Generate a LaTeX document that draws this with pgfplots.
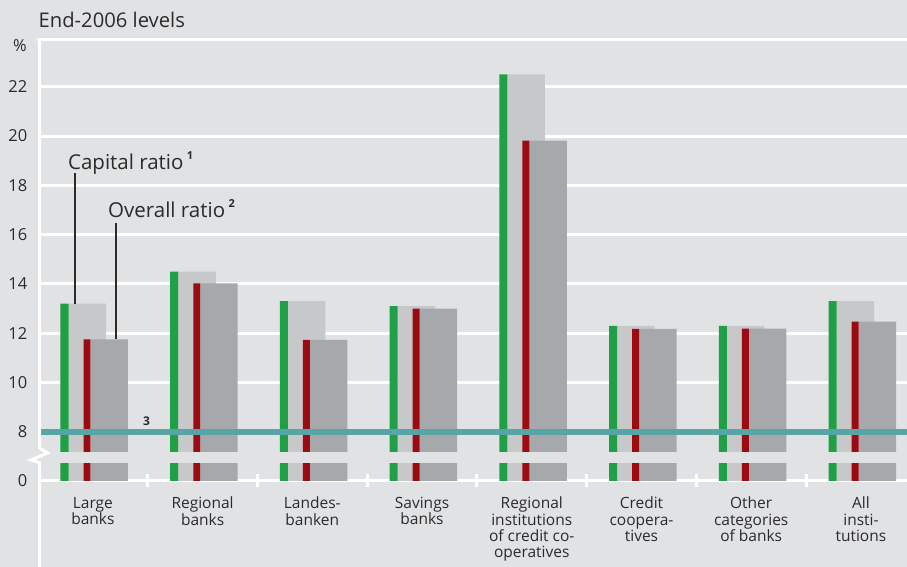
\documentclass[border=0pt]{standalone}
\usepackage{pgfplots}
\usepackage{pgfplotstable}
\pgfplotsset{compat=1.18}
\usepackage{fontspec}
\setmainfont{Open Sans}
\definecolor{bg}{HTML}{E1E2E4}
\definecolor{lgray}{HTML}{C7C8CA}
\definecolor{dgray}{HTML}{A7A8AB}
\definecolor{cgreen}{HTML}{1FA046}
\definecolor{cred}{HTML}{9C0A12}
\definecolor{cteal}{HTML}{57A6A5}
\definecolor{txt}{HTML}{2B2B2B}
\pgfplotstableread{
cat cap over
0 13.2 11.75
1 14.5 14.02
2 13.3 11.73
3 13.1 13.0
4 22.5 19.82
5 12.3 12.17
6 12.3 12.18
7 13.3 12.47
}\ratios
\begin{document}
\begin{tikzpicture}[x=1pt,y=1pt]
\path[use as bounding box] (0,0) rectangle (907,567);
\fill[bg] (0,0) rectangle (907,567);
\node[anchor=base west, font=\fontsize{20.2}{23}\selectfont, text=txt, inner sep=0] at (38.5,539.3) {End-2006 levels};
\node[anchor=base east, font=\fontsize{16.5}{19}\selectfont, text=txt, inner sep=0] at (27,515.3) {\%};
\begin{axis}[
  at={(38pt,86pt)}, anchor=south west,
  scale only axis, width=869pt, height=441pt,
  xmin=-0.5, xmax=7.42, ymin=6, ymax=23.9,
  axis line style={draw=none},
  ytick={6,8,10,12,14,16,18,20,22},
  yticklabels={0,8,10,12,14,16,18,20,22},
  ymajorgrids, grid style={white, line width=3pt},
  ytick style={draw=none},
  yticklabel style={font=\fontsize{16.5}{19}\selectfont, text=txt, inner sep=0pt, anchor=east, xshift=-4pt},
  xtick={0.5,1.5,...,6.5}, xticklabels={},
  xtick pos=bottom, tick align=center, major tick length=13pt,
  xtick style={draw=white, line width=3pt},
  extra x ticks={0,1,2,3,4,5,6,7},
  extra x tick labels={Large\\banks, Regional\\banks, Landes-\\banken, Savings\\banks, Regional\\institutions\\of credit co-\\operatives, Credit\\coopera-\\tives, Other\\categories\\of banks, All\\insti-\\tutions},
  extra x tick style={major tick length=0pt, xtick style={draw=none}},
  xticklabel style={font=\fontsize{15.5}{16.3}\selectfont, text=txt, align=center, anchor=north, inner sep=0pt, yshift=-16pt},
  clip=true,
]
\addplot[ybar, bar width=0.342, bar shift=-0.051, fill=lgray, draw=none] table[x=cat, y=cap] {\ratios};
\addplot[ybar, bar width=0.073, bar shift=-0.2585, fill=cgreen, draw=none] table[x=cat, y=cap] {\ratios};
\addplot[ybar, bar width=0.342, bar shift=0.149, fill=dgray, draw=none] table[x=cat, y=over] {\ratios};
\addplot[ybar, bar width=0.063, bar shift=-0.0535, fill=cred, draw=none] table[x=cat, y=over] {\ratios};
\fill[bg] (axis cs:-0.5,6.72) rectangle (axis cs:7.42,7.165);
\addplot[cteal, line width=5.7pt, forget plot] coordinates {(-0.5,7.98) (7.42,7.98)};
\node[font=\bfseries\fontsize{12}{14}\selectfont, text=txt] at (axis cs:0.49,8.42) {3};
\draw[txt, line width=1.4pt] (axis cs:-0.163,18.5) -- (axis cs:-0.163,13.2);
\draw[txt, line width=1.4pt] (axis cs:0.211,16.47) -- (axis cs:0.211,11.75);
\node[anchor=base west, inner sep=0, font=\fontsize{20.5}{23}\selectfont, text=txt] at (axis cs:-0.227,18.65) {Capital ratio\,\raisebox{0.5em}{\bfseries\fontsize{11}{12}\selectfont 1}};
\node[anchor=base west, inner sep=0, font=\fontsize{20.5}{23}\selectfont, text=txt] at (axis cs:0.138,16.69) {Overall ratio\,\raisebox{0.5em}{\bfseries\fontsize{11}{12}\selectfont 2}};
\end{axis}
\draw[white, line width=3pt] (36.5,527) -- (907,527);
\draw[white, line width=3pt, line join=miter] (39.5,0) -- (39.5,104.3) -- (31,107) -- (47.5,114) -- (39.5,119) -- (39.5,528.5);
\end{tikzpicture}
\end{document}
